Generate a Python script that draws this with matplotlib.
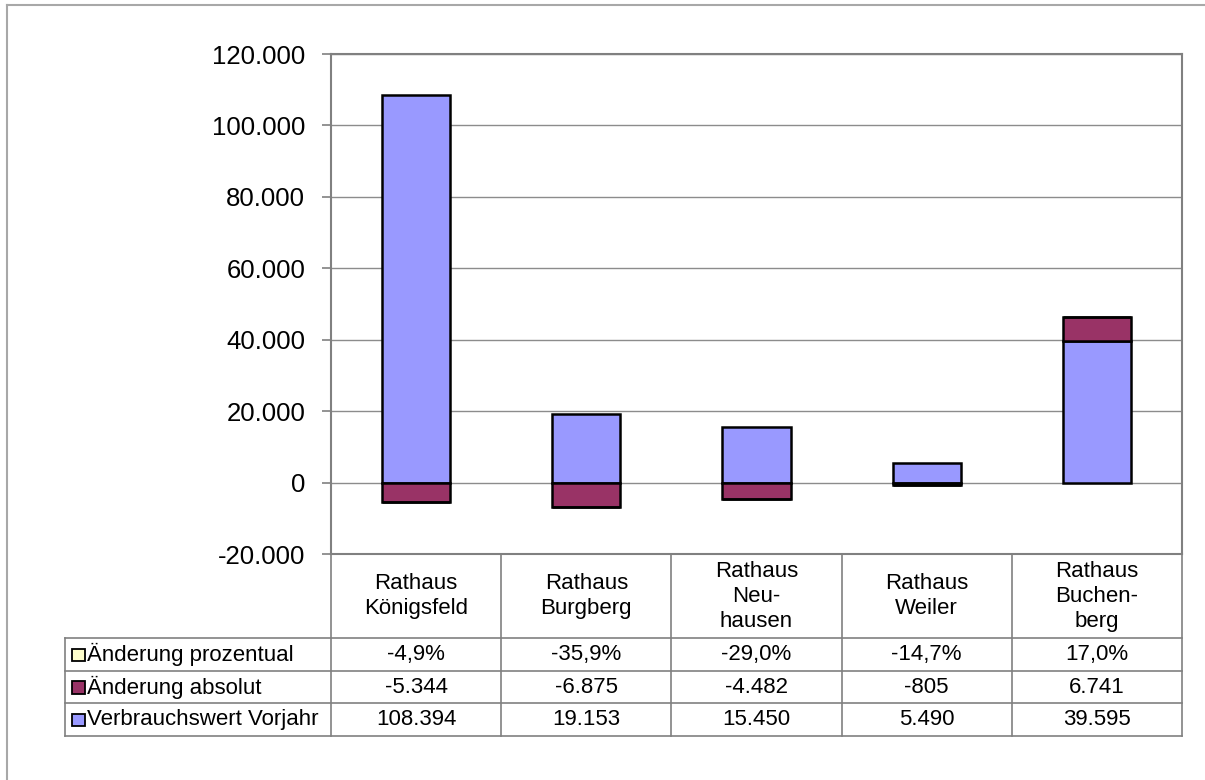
import numpy as np
import matplotlib.pyplot as plt
from matplotlib.lines import Line2D
from matplotlib.patches import Rectangle

plt.rcParams['font.family'] = ['Liberation Sans', 'DejaVu Sans']

# data
categories = ["Rathaus\nKönigsfeld", "Rathaus\nBurgberg", "Rathaus\nNeu-\nhausen",
              "Rathaus\nWeiler", "Rathaus\nBuchen-\nberg"]
vorjahr = [108394, 19153, 15450, 5490, 39595]
absolut = [-5344, -6875, -4482, -805, 6741]
prozent = [-0.049, -0.359, -0.290, -0.147, 0.170]
series_names = ["Änderung prozentual", "Änderung absolut", "Verbrauchswert Vorjahr"]
colors = ["#FFFFCC", "#993366", "#9999FF"]
yticks = [-20000, 0, 20000, 40000, 60000, 80000, 100000, 120000]


def fmt_num(v):
    return f"{v:,.0f}".replace(",", ".")


def fmt_pct(v):
    return f"{v * 100:.1f}%".replace(".", ",")


W, H = 1205, 780
fig = plt.figure(figsize=(W / 100, H / 100), dpi=100)


def fx(px):
    return px / W


def fy(py):
    return 1 - py / H


# plot area in pixel positions
left, right, top, bottom = 331, 1182, 54, 554
ax = fig.add_axes([fx(left), fy(bottom), fx(right) - fx(left), fy(top) - fy(bottom)])

x = np.arange(len(categories))
pos = np.zeros(len(x))
neg = np.zeros(len(x))
# Excel stacking order: Vorjahr first, then absolut, then prozent
for vals, color in [(vorjahr, colors[2]), (absolut, colors[1]), (prozent, colors[0])]:
    vals = np.array(vals, float)
    base = np.where(vals >= 0, pos, neg)
    ax.bar(x, vals, 0.4, bottom=base, color=color, edgecolor='black',
           linewidth=1.8, zorder=3)
    pos += np.where(vals >= 0, vals, 0)
    neg += np.where(vals < 0, vals, 0)

ax.set_xlim(-0.5, len(x) - 0.5)
ax.set_ylim(-20000, 120000)
ax.set_yticks(yticks)
ax.set_yticklabels([fmt_num(v) for v in yticks], fontsize=18.5)
ax.tick_params(axis='y', length=6.5, width=1.2, color='#808080', pad=12)
ax.set_xticks([])
ax.grid(axis='y', color='#8c8c8c', lw=1, zorder=0)
for s in ax.spines.values():
    s.set_color('#808080')
    s.set_linewidth(1.5)

# data table below the plot
row_lines = [638.5, 671, 703.5, 736.5]
tab = fig.add_axes([fx(left), fy(row_lines[-1]), fx(right) - fx(left),
                    fy(bottom) - fy(row_lines[-1])])
tab.set_xlim(-0.5, len(x) - 0.5)
tab.set_ylim(row_lines[-1], bottom)
tab.axis('off')

col_w = (right - left) / len(x)
label_left = -0.5 - (left - 65) / col_w
lc = '#808080'
lw = 1.2

for y in row_lines:
    tab.add_line(Line2D([label_left, len(x) - 0.5], [y, y], color=lc, lw=lw, clip_on=False))
tab.add_line(Line2D([label_left, label_left], [row_lines[0], row_lines[-1]],
                    color=lc, lw=lw, clip_on=False))
for i in range(len(x) + 1):
    xv = i - 0.5
    tab.add_line(Line2D([xv, xv], [bottom, row_lines[-1]], color=lc, lw=lw, clip_on=False))

fs = 16
cat_mid = (bottom + row_lines[0]) / 2
for i, c in enumerate(categories):
    tab.text(i, cat_mid, c, ha='center', va='center', fontsize=fs,
             multialignment='center', linespacing=1.25)

rows = [[fmt_pct(v) for v in prozent], [fmt_num(v) for v in absolut], [fmt_num(v) for v in vorjahr]]
sq = 12.5 / col_w
for r in range(3):
    yc = (row_lines[r] + row_lines[r + 1]) / 2
    xs = label_left + 7 / col_w
    tab.add_patch(Rectangle((xs, yc - 6), sq, 12.5, facecolor=colors[r], edgecolor='black',
                            lw=1.3, clip_on=False))
    tab.text(label_left + 22 / col_w, yc, series_names[r], ha='left', va='center',
             fontsize=fs, clip_on=False)
    for i, t in enumerate(rows[r]):
        tab.text(i, yc, t, ha='center', va='center', fontsize=fs)

# outer chart frame
fig.add_artist(Line2D([fx(7), 1], [fy(5), fy(5)], color='#a8a8a8', lw=1.5))
fig.add_artist(Line2D([fx(7), fx(7)], [fy(5), 0], color='#a8a8a8', lw=1.5))

fig.savefig('out.png', dpi=100)
